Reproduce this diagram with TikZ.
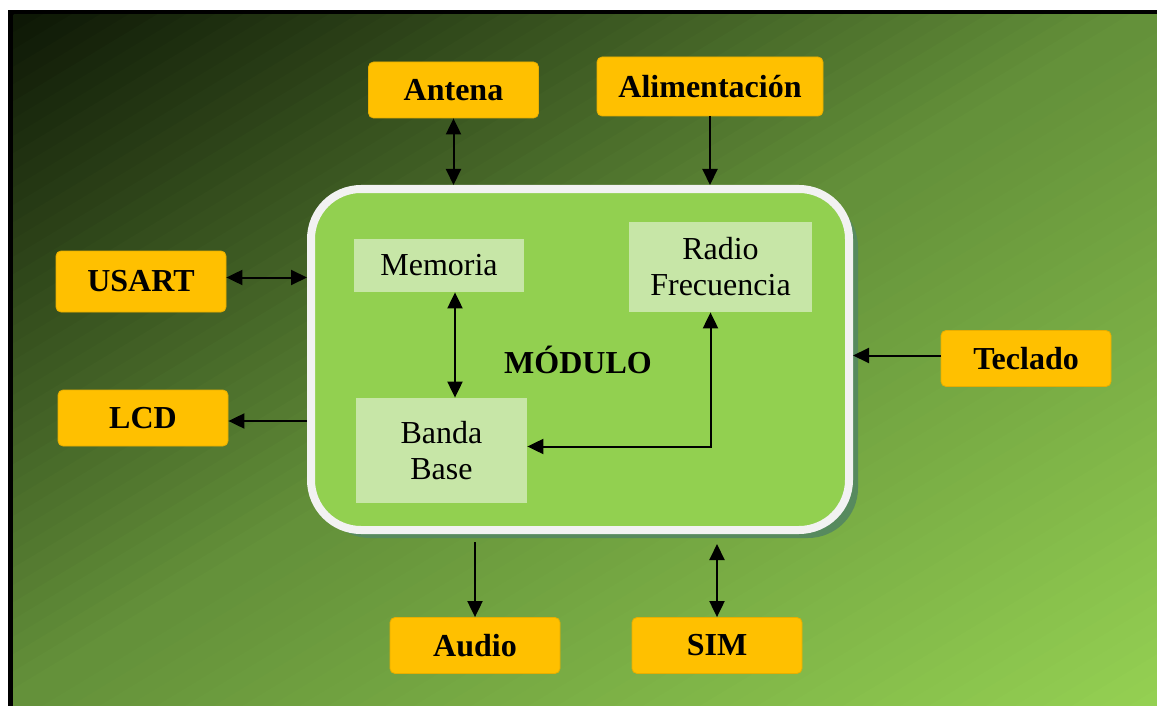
\documentclass[tikz,border=0pt]{standalone}
\usepackage{fontspec}
\setmainfont{Liberation Serif}
\usepackage{xcolor}
\usepackage{tikz}
\usetikzlibrary{arrows.meta,shadows}

\definecolor{ambar}{HTML}{FFC000}
\definecolor{ambarborde}{HTML}{E8AE00}
\definecolor{verdemod}{HTML}{92D050}
\definecolor{verdecaja}{HTML}{C7E6A7}
\definecolor{bordemod}{HTML}{F2F2F2}
\definecolor{sombra}{HTML}{578A5E}
\definecolor{fondoA}{RGB}{14,24,6}
\definecolor{fondoB}{RGB}{100,145,58}
\definecolor{fondoC}{RGB}{148,208,82}

% one band of the diagonal background, between levels #1 and #2 (0..2)
\newcommand{\banda}[3]{%
  \fill[#3] ({13+(#1+1)*1144},-676) -- ({13+(#2+1)*1144},-676)
    -- ({13+(#2-1)*1144},706) -- ({13+(#1-1)*1144},706) -- cycle;}

\begin{document}
\begin{tikzpicture}[
    x=0.5pt, y=-0.5pt,
    font=\fontsize{16}{18}\selectfont,
    >={Triangle[length=8pt,width=7.5pt]},
    ext/.style={fill=ambar, draw=ambarborde, line width=0.4pt, rounded corners=2.5pt,
      font=\fontsize{16}{18}\selectfont\bfseries,
      minimum width=85pt, minimum height=28pt, inner sep=0pt},
    blq/.style={fill=verdecaja, align=center, inner sep=0pt},
    con/.style={line width=1pt},
  ]
  %% ---- fondo ---------------------------------------------------------
  \useasboundingbox (0,0) rectangle (1157,706);
  \fill[black] (8,10) rectangle (1157,706);
  \begin{scope}
    \clip (13,15) rectangle (1157,706);
    \foreach \k in {0,...,39}{
      \pgfmathsetmacro\p{100*\k/39}
      \banda{\k/40}{(\k+1.4)/40}{fondoB!\p!fondoA}
    }
    \foreach \k in {0,...,39}{
      \pgfmathsetmacro\p{100*\k/39}
      \banda{1+\k/40}{1+(\k+1.4)/40}{fondoC!\p!fondoB}
    }
  \end{scope}

  %% ---- modulo --------------------------------------------------------
  \node[draw=bordemod, line width=4pt, fill=verdemod, rounded corners=25pt,
        minimum width=269pt, minimum height=170.5pt,
        drop shadow={shadow xshift=4.5pt, shadow yshift=-4pt, fill=sombra, opacity=1}]
    (modulo) at (580,359.5) {};
  \node[blq, minimum width=85pt, minimum height=26.5pt] (memoria) at (439,265.5) {Memoria};
  \node[blq, minimum width=91.5pt, minimum height=45pt] (rf) at (720.5,267) {Radio\\Frecuencia};
  \node[blq, minimum width=85.5pt, minimum height=52.5pt] (banda) at (441.5,450.5) {Banda\\Base};
  \node[font=\fontsize{16}{18}\selectfont\bfseries] (titulo) at (578,360) {MÓDULO};

  %% ---- bloques externos ----------------------------------------------
  \node[ext] (antena) at (453.5,90) {Antena};
  \node[ext, minimum width=113pt, minimum height=29.5pt] (alim) at (710,86.5) {Alimentación};
  \node[ext, minimum height=30.5pt] (usart) at (141,281.5) {USART};
  \node[ext] (lcd) at (143,418) {LCD};
  \node[ext] (teclado) at (1026,358.5) {Teclado};
  \node[ext] (audio) at (475,645.5) {Audio};
  \node[ext] (sim) at (717,645.5) {SIM};

  %% ---- conexiones ----------------------------------------------------
  \draw[con,<->] (antena.south) -- (antena.south |- modulo.north);
  \draw[con,->]  (alim.south) -- (alim.south |- modulo.north);
  \draw[con,<->] ([yshift=2pt]usart.east) -- ([yshift=2pt]usart.east -| modulo.west);
  \draw[con,->]  ([yshift=-1.5pt]lcd.east -| modulo.west) -- ([yshift=-1.5pt]lcd.east);
  \draw[con,->]  ([yshift=1.5pt]teclado.west) -- ([yshift=1.5pt]teclado.west -| modulo.east);
  \draw[con,->]  ([yshift=-4pt]audio.north |- modulo.south) -- (audio.north);
  \draw[con,<->] ([yshift=-5pt]sim.north |- modulo.south) -- (sim.north);
  \draw[con,<->] ([xshift=8pt]memoria.south) -- ([xshift=8pt]memoria.south |- banda.north);
  \draw[con,<->] ([xshift=-5pt]rf.south) |- ([yshift=2pt]banda.east);
\end{tikzpicture}
\end{document}
